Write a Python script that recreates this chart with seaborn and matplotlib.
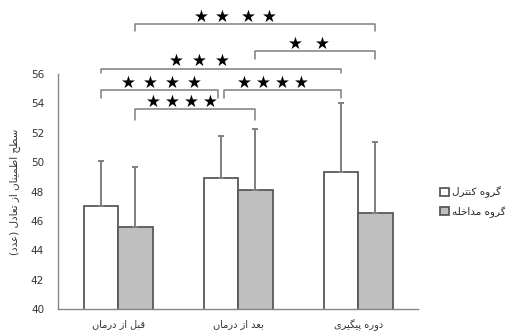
import matplotlib
matplotlib.use("Agg")
import matplotlib.pyplot as plt
import pandas as pd
import seaborn as sns

# data
categories = ["قبل از درمان", "بعد از درمان", "دوره پیگیری"]
groups = ["گروه کنترل", "گروه مداخله"]
control_mean = [47.0, 48.9, 49.35]
control_sd = [3.1, 2.85, 4.7]
intervention_mean = [45.6, 48.1, 46.55]
intervention_sd = [4.05, 4.15, 4.85]
y_label = "سطح اطمینان از تعادل (عدد)"
y_ticks = [40, 42, 44, 46, 48, 50, 52, 54, 56]

# significance brackets: (group, category) -> (group, category), number of stars
sig_pairs = [
    ((1, 0), (1, 2), 4),
    ((1, 1), (1, 2), 2),
    ((0, 0), (0, 2), 3),
    ((0, 0), (0, 1), 4),
    ((0, 1), (0, 2), 4),
    ((1, 0), (1, 1), 4),
]
# bracket line height, leg bottom (data units)
sig_levels = [(59.4, 58.9), (57.55, 57.0), (56.35, 56.05), (54.9, 54.4), (54.9, 54.4), (53.6, 52.85)]
# star layout: gaps between star centres (px), shift of the group from bracket centre (px)
star_gaps = [[21, 26, 21], [27], [23, 23], [22, 22, 22], [19, 19, 19], [19, 19, 19]]
star_shift = [-20, -7, -21, 2, -10, -13]
# small horizontal trims of bracket ends (data units) so neighbours don't touch
bracket_trim = [(0, 0), (0, 0), (0, 0), (0, -0.02), (0.03, 0), (0, 0)]

# minimal arabic/persian shaping (isolated, final, initial, medial)
FORMS = {
    "ا": ("\uFE8D", "\uFE8E", None, None),
    "ب": ("\uFE8F", "\uFE90", "\uFE91", "\uFE92"),
    "پ": ("\uFB56", "\uFB57", "\uFB58", "\uFB59"),
    "ت": ("\uFE95", "\uFE96", "\uFE97", "\uFE98"),
    "ح": ("\uFEA1", "\uFEA2", "\uFEA3", "\uFEA4"),
    "خ": ("\uFEA5", "\uFEA6", "\uFEA7", "\uFEA8"),
    "د": ("\uFEA9", "\uFEAA", None, None),
    "ر": ("\uFEAD", "\uFEAE", None, None),
    "ز": ("\uFEAF", "\uFEB0", None, None),
    "س": ("\uFEB1", "\uFEB2", "\uFEB3", "\uFEB4"),
    "ط": ("\uFEC1", "\uFEC2", "\uFEC3", "\uFEC4"),
    "ع": ("\uFEC9", "\uFECA", "\uFECB", "\uFECC"),
    "ق": ("\uFED5", "\uFED6", "\uFED7", "\uFED8"),
    "ک": ("\uFB8E", "\uFB8F", "\uFB90", "\uFB91"),
    "گ": ("\uFB92", "\uFB93", "\uFB94", "\uFB95"),
    "ل": ("\uFEDD", "\uFEDE", "\uFEDF", "\uFEE0"),
    "م": ("\uFEE1", "\uFEE2", "\uFEE3", "\uFEE4"),
    "ن": ("\uFEE5", "\uFEE6", "\uFEE7", "\uFEE8"),
    "ه": ("\uFEE9", "\uFEEA", "\uFEEB", "\uFEEC"),
    "و": ("\uFEED", "\uFEEE", None, None),
    "ی": ("\uFBFC", "\uFBFD", "\uFBFE", "\uFBFF"),
}
MIRROR = {"(": ")", ")": "("}


def shape(text: str) -> str:
    out = []
    for i, ch in enumerate(text):
        if ch not in FORMS:
            out.append(ch)
            continue
        prev = text[i - 1] if i > 0 else ""
        nxt = text[i + 1] if i + 1 < len(text) else ""
        join_prev = prev in FORMS and FORMS[prev][2] is not None
        join_next = FORMS[ch][2] is not None and nxt in FORMS
        iso, fin, ini, med = FORMS[ch]
        if join_prev and join_next:
            out.append(med)
        elif join_prev:
            out.append(fin)
        elif join_next:
            out.append(ini)
        else:
            out.append(iso)
    return "".join(MIRROR.get(c, c) for c in reversed(out))


sns.set_theme(style="white")
plt.rcParams["font.family"] = ["DejaVu Sans"]

df = pd.DataFrame({
    "cat": [shape(c) for c in categories] * 2,
    "group": [shape(groups[0])] * 3 + [shape(groups[1])] * 3,
    "mean": control_mean + intervention_mean,
    "sd": control_sd + intervention_sd,
})

fig = plt.figure(figsize=(5.05, 3.32), dpi=100)
ax = fig.add_axes([0.115, 0.069, 0.713, 0.708])
sns.barplot(
    data=df, x="cat", y="mean", hue="group", ax=ax,
    palette=["white", "#bfbfbf"], edgecolor="#595959", linewidth=1.3,
    width=0.575, errorbar=None, saturation=1, gap=0,
)

sds = [control_sd, intervention_sd]
bar_containers = list(ax.containers)
centers = {}
for g, cont in enumerate(bar_containers):
    for c, bar in enumerate(cont):
        cx = bar.get_x() + bar.get_width() / 2
        top = bar.get_height()
        centers[(g, c)] = cx
        ax.errorbar(cx, top, yerr=[[0], [sds[g][c]]], color="#7f7f7f",
                    elinewidth=1.4, capsize=2.5, capthick=1.4, zorder=3)

PX = 0.72  # points per pixel at dpi 100
for (a, b, n), (ly, lb), gaps, shift, (ta, tb) in zip(
        sig_pairs, sig_levels, star_gaps, star_shift, bracket_trim):
    x0, x1 = centers[a] + ta, centers[b] + tb
    ax.plot([x0, x0, x1, x1], [lb, ly, ly, lb], color="#7f7f7f", lw=1.1, clip_on=False)
    offs = [0]
    for gp in gaps:
        offs.append(offs[-1] + gp)
    mid = offs[-1] / 2
    for k in range(n):
        ax.annotate("★", xy=((x0 + x1) / 2, ly), xytext=((offs[k] - mid + shift) * PX, 7.5 * PX),
                    textcoords="offset points", ha="center", va="center",
                    fontsize=12, color="black", annotation_clip=False)

ax.set_ylim(40, 56)
ax.set_xlim(-0.5, 2.5)
ax.set_yticks(y_ticks)
ax.set_yticklabels([str(t) for t in y_ticks], fontsize=7.5, color="#333333")
ax.set_xticks([0.5, 1.5], minor=True)
ax.tick_params(axis="x", which="major", length=0, labelsize=7, pad=7, labelcolor="#333333")
ax.tick_params(axis="x", which="minor", length=3, color="#868686", direction="out")
ax.tick_params(axis="y", length=3, color="#868686", direction="out", pad=7)
ax.set_xlabel("")
ax.set_ylabel(shape(y_label), fontsize=7.5, labelpad=8, color="#333333")
sns.despine(ax=ax)
for side in ["left", "bottom"]:
    ax.spines[side].set_color("#868686")
    ax.spines[side].set_linewidth(1.0)

ax.legend(loc="center left", bbox_to_anchor=(1.05, 0.455), frameon=False,
          fontsize=7.5, handlelength=0.8, handleheight=0.8, handletextpad=0.3,
          labelspacing=0.7, borderaxespad=0)

fig.savefig("out.png", dpi=100, facecolor="white")
